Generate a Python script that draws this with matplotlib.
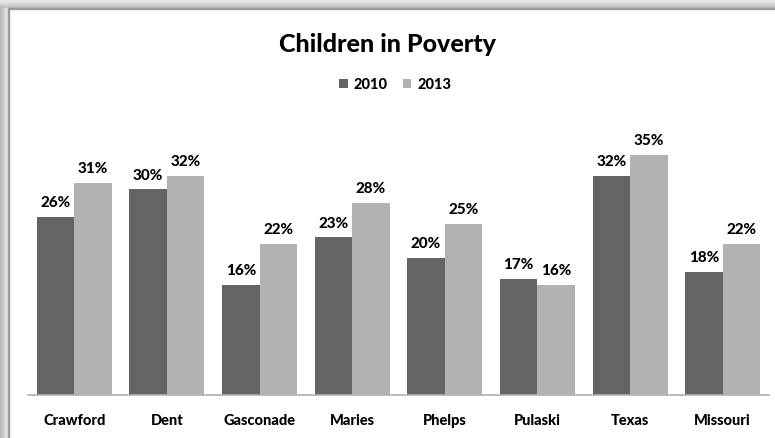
import matplotlib.pyplot as plt
from matplotlib.patches import Rectangle
import numpy as np

plt.rcParams['font.family'] = ['Lato', 'DejaVu Sans']

# データ
counties = ['Crawford', 'Dent', 'Gasconade', 'Maries', 'Phelps', 'Pulaski', 'Texas', 'Missouri']
pct_2010 = [26, 30, 16, 23, 20, 17, 32, 18]
pct_2013 = [31, 32, 22, 28, 25, 16, 35, 22]

c2010 = '#646464'
c2013 = '#b2b2b2'

fig = plt.figure(figsize=(7.75, 4.38), dpi=100)
fig.patch.set_facecolor('white')

# 枠の影 (上と左)
W, H = 775, 438
for i, g in enumerate(np.linspace(0.72, 0.9, 8)):
    fig.patches.append(Rectangle((0, 1 - (8 - i) / H), 1, 1 / H, transform=fig.transFigure,
                                 color=str(g), zorder=0))
    fig.patches.append(Rectangle((i / W, 0), 1 / W, 1 - 8 / H, transform=fig.transFigure,
                                 color=str(g), zorder=0))
fig.patches.append(Rectangle((8 / W, 0), 1 / W, 1 - 8 / H, transform=fig.transFigure,
                             color='#9a9a9a', zorder=0))
fig.patches.append(Rectangle((8 / W, 1 - 9 / H), 1, 1 / H, transform=fig.transFigure,
                             color='#9a9a9a', zorder=0))

ax = fig.add_axes([28 / W, 43 / H, 741 / W, 274 / H])
x = np.arange(len(counties))
w = 0.405
b1 = ax.bar(x - w / 2, pct_2010, w, color=c2010, label='2010')
b2 = ax.bar(x + w / 2, pct_2013, w, color=c2013, label='2013')

for bars, vals in ((b1, pct_2010), (b2, pct_2013)):
    for b, v in zip(bars, vals):
        ax.annotate(f'{v}%', (b.get_x() + b.get_width() / 2, v), xytext=(0, 5),
                    textcoords='offset points', ha='center', va='bottom',
                    fontsize=11, fontweight='black')

ax.set_xlim(-0.5, len(counties) - 0.5)
ax.set_ylim(0, 40)
ax.set_xticks(x)
ax.set_xticklabels(counties, fontsize=10.5, fontweight='black')
ax.tick_params(axis='x', length=0, pad=14)
ax.set_yticks([])
for s in ['top', 'right', 'left']:
    ax.spines[s].set_visible(False)
ax.spines['bottom'].set_color('#b0b0b0')
ax.spines['bottom'].set_linewidth(1.2)
ax.patch.set_alpha(0)

fig.text(0.5, 1 - 45 / H, 'Children in Poverty', ha='center', va='center',
         fontsize=18, fontweight='black')
fig.legend(handles=[b1, b2], labels=['2010', '2013'], loc='center',
           bbox_to_anchor=(0.51, 1 - 85 / H), ncol=2, frameon=False,
           prop={'size': 10.5, 'weight': 'black'}, handlelength=0.6, handleheight=0.6,
           handletextpad=0.4, columnspacing=1.0)

fig.savefig('out.png', dpi=100)
